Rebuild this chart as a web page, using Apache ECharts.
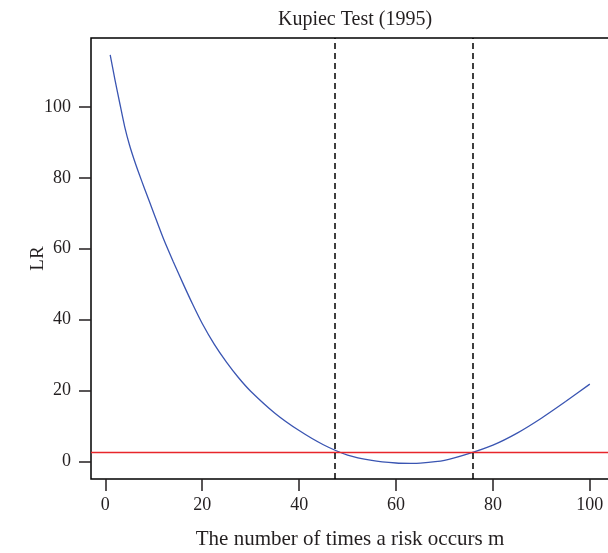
<!DOCTYPE html>
<html>
<head>
<meta charset="utf-8">
<script src="https://cdn.jsdelivr.net/npm/echarts@6/dist/echarts.min.js"></script>
<style>
html,body{margin:0;padding:0;background:#fff;}
#chart{width:608px;height:553px;}
</style>
</head>
<body>
<div id="chart"></div>
<script>
// Data
var mValues  = [1, 2, 3, 4, 5, 6, 7, 8, 10, 12, 14, 16, 18, 20, 22.5, 25, 27.5, 30, 35, 40, 45, 50, 55, 60, 63, 65, 70, 75, 80, 85, 90, 95, 100];
var lrValues = [114.7, 107.6, 100.9, 94.4, 89.2, 84.9, 81.0, 77.3, 70.0, 62.8, 56.4, 50.3, 44.4, 38.9, 33.0, 28.0, 23.6, 19.8, 13.6, 8.7, 4.7, 1.8, 0.3, -0.45, -0.56, -0.5, 0.3, 2.2, 4.6, 8.0, 12.2, 16.9, 21.8];
var criticalValue = 2.71;
var boundaries = [47.3, 75.9];
var xTicks = [0, 20, 40, 60, 80, 100];
var yTicks = [0, 20, 40, 60, 80, 100];
var titleText = 'Kupiec Test (1995)';
var xName = 'The number of times a risk occurs m';
var yName = 'LR';

var FONT = '"Liberation Serif", "DejaVu Serif", serif';
var TXT = '#231f20';

var chart = echarts.init(document.getElementById('chart'), null, {renderer: 'canvas'});
var curve = mValues.map(function (m, i) { return [m, lrValues[i]]; });

chart.setOption({
  animation: false,
  backgroundColor: '#ffffff',
  title: {
    text: titleText,
    left: 350, top: 5,
    textAlign: 'center',
    textStyle: {fontFamily: FONT, fontSize: 20, fontWeight: 'normal', color: TXT}
  },
  grid: {
    left: 91, top: 38, width: 518, height: 441,
    show: true, borderColor: '#000', borderWidth: 1.5, backgroundColor: 'transparent',
    containLabel: false,
    outerBoundsMode: 'none'
  },
  xAxis: {
    type: 'value', min: -2.96, max: 103.96,
    name: xName, nameLocation: 'middle', nameGap: 50, nameMoveOverlap: false,
    nameTextStyle: {fontFamily: FONT, fontSize: 21, color: TXT},
    axisLine: {show: false, onZero: false},
    splitLine: {show: false},
    axisTick: {show: true, length: 12, inside: false, customValues: xTicks, lineStyle: {color: '#231f20', width: 1.5}},
    axisLabel: {customValues: xTicks, margin: 17, fontFamily: FONT, fontSize: 18, color: TXT}
  },
  yAxis: {
    type: 'value', min: -4.96, max: 119.45,
    name: yName, nameLocation: 'middle', nameGap: 43, nameRotate: 90, nameMoveOverlap: false,
    nameTextStyle: {fontFamily: FONT, fontSize: 19, color: TXT},
    axisLine: {show: false, onZero: false},
    splitLine: {show: false},
    axisTick: {show: true, length: 12, inside: false, customValues: yTicks, lineStyle: {color: '#231f20', width: 1.5}},
    axisLabel: {customValues: yTicks, margin: 20, fontFamily: FONT, fontSize: 18, color: TXT}
  },
  series: [
    {
      type: 'line',
      data: curve,
      showSymbol: false,
      smooth: 0.25,
      lineStyle: {color: '#3a55b2', width: 1.3},
      itemStyle: {color: '#3a55b2'},
      markLine: {
        silent: true, symbol: 'none', label: {show: false},
        data: [
          {yAxis: criticalValue, lineStyle: {color: '#e8262b', width: 1.3, type: 'solid'}},
          {xAxis: boundaries[0], lineStyle: {color: '#000', width: 1.5, type: [6, 4]}},
          {xAxis: boundaries[1], lineStyle: {color: '#000', width: 1.5, type: [6, 4]}}
        ]
      }
    }
  ]
});
</script>
</body>
</html>
